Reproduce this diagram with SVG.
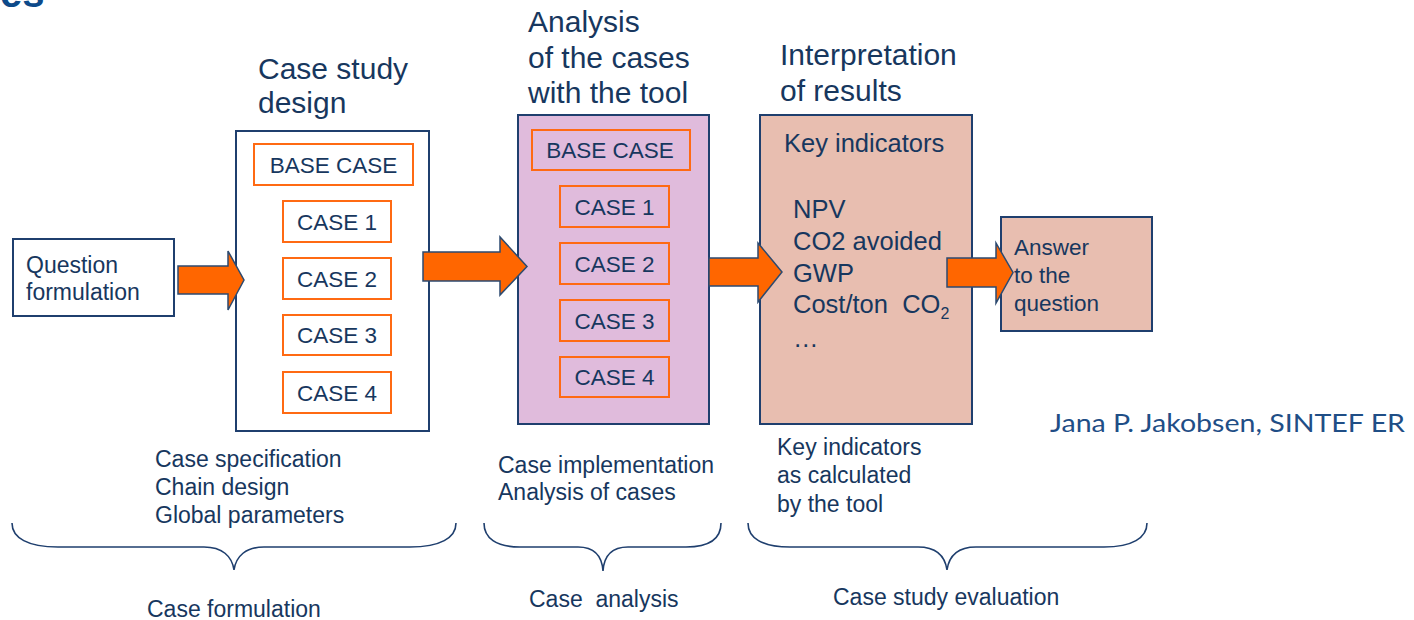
<svg xmlns="http://www.w3.org/2000/svg" width="1414" height="620" viewBox="0 0 1414 620" xml:space="preserve">
<style>
text{font-family:"Liberation Sans",Arial,sans-serif;fill:#17375e;white-space:pre}
.t{font-size:30px}
.b{font-size:23px}
.c{font-size:22.5px}
.k{font-size:25.5px}
.box{fill:#fff;stroke:#1f3f6e;stroke-width:2}
.ob{fill:none;stroke:#ff6a13;stroke-width:2}
.arr{fill:#ff6600;stroke:#2c4a70;stroke-width:1.5;stroke-linejoin:miter}
.brace{fill:none;stroke:#1f3f6e;stroke-width:1.6}
</style>
<text x="0" y="7" style="font-size:40px;font-weight:bold;fill:#0d4a8a">es</text>

<g id="question">
<rect class="box" x="13" y="239" width="161" height="77"/>
<text class="b" x="26" y="273">Question</text>
<text class="b" x="26" y="300">formulation</text>
</g>

<g id="case-study-design">
<text class="t" x="258" y="79">Case study</text>
<text class="t" x="258" y="113">design</text>
<rect class="box" x="236" y="131" width="193" height="300"/>
<rect class="ob" x="254" y="144" width="159" height="41"/>
<text class="c" x="333.5" y="173" text-anchor="middle">BASE CASE</text>
<rect class="ob" x="283" y="201" width="108" height="41"/>
<text class="c" x="337" y="230" text-anchor="middle">CASE 1</text>
<rect class="ob" x="283" y="258" width="108" height="41"/>
<text class="c" x="337" y="287" text-anchor="middle">CASE 2</text>
<rect class="ob" x="283" y="315" width="108" height="40"/>
<text class="c" x="337" y="343" text-anchor="middle">CASE 3</text>
<rect class="ob" x="283" y="372" width="108" height="41"/>
<text class="c" x="337" y="401" text-anchor="middle">CASE 4</text>
</g>

<g id="analysis">
<text class="t" x="528" y="32">Analysis</text>
<text class="t" x="528" y="68">of the cases</text>
<text class="t" x="528" y="103">with the tool</text>
<rect x="518" y="115" width="191" height="309" fill="#e0bbdc" stroke="#1f3f6e" stroke-width="2"/>
<rect class="ob" x="532" y="130" width="158" height="40"/>
<text class="c" x="610" y="158" text-anchor="middle">BASE CASE</text>
<rect class="ob" x="560" y="186" width="109" height="41"/>
<text class="c" x="614.5" y="215" text-anchor="middle">CASE 1</text>
<rect class="ob" x="560" y="243" width="109" height="41"/>
<text class="c" x="614.5" y="272" text-anchor="middle">CASE 2</text>
<rect class="ob" x="560" y="300" width="109" height="41"/>
<text class="c" x="614.5" y="329" text-anchor="middle">CASE 3</text>
<rect class="ob" x="560" y="357" width="109" height="40"/>
<text class="c" x="614.5" y="385" text-anchor="middle">CASE 4</text>
</g>

<g id="interpretation">
<text class="t" x="780" y="65">Interpretation</text>
<text class="t" x="780" y="101">of results</text>
<rect x="760" y="115" width="212" height="309" fill="#e8beb0" stroke="#1f3f6e" stroke-width="2"/>
<text class="k" x="784" y="152">Key indicators</text>
<text class="k" x="793" y="218">NPV</text>
<text class="k" x="793" y="250">CO2 avoided</text>
<text class="k" x="793" y="282">GWP</text>
<text class="k" x="793" y="313">Cost/ton  CO<tspan dy="6" style="font-size:16px">2</tspan></text>
<text class="k" x="793" y="347">…</text>
</g>

<g id="answer">
<rect x="1001" y="217" width="151" height="114" fill="#e8beb0" stroke="#1f3f6e" stroke-width="2"/>
<text class="c" x="1014" y="255">Answer</text>
<text class="c" x="1014" y="283">to the</text>
<text class="c" x="1014" y="311">question</text>
</g>

<g id="connectors">
<polygon class="arr" points="178,266 228,266 228,251 244,280 228,310 228,294 178,294"/>
<polygon class="arr" points="423,252 500,252 500,237 527,266.5 500,295 500,281 423,281"/>
<polygon class="arr" points="709,258 758,258 758,243 782,272 758,302 758,286 709,286"/>
<polygon class="arr" points="947,258 996,258 996,243 1013,272.5 996,303 996,287 947,287"/>
</g>

<g id="formulation-notes">
<text class="b" x="155" y="467">Case specification</text>
<text class="b" x="155" y="495">Chain design</text>
<text class="b" x="155" y="523">Global parameters</text>
<path class="brace" d="M12,523 C12,538 28,547 58,547 L204,547 C222,547 232,556 234,570 C236,556 246,547 264,547 L410,547 C440,547 456,538 456,523"/>
<text class="b" x="147" y="617">Case formulation</text>
</g>

<g id="analysis-notes">
<text class="b" x="498" y="473">Case implementation</text>
<text class="b" x="498" y="500">Analysis of cases</text>
<path class="brace" d="M484,523 C484,538 496,547 520,547 L578,547 C594,547 602,556 603,571 C604,556 612,547 628,547 L686,547 C710,547 721,538 721,523"/>
<text class="b" x="529" y="607">Case  analysis</text>
</g>

<g id="evaluation-notes">
<text class="b" x="777" y="455">Key indicators</text>
<text class="b" x="777" y="483">as calculated</text>
<text class="b" x="777" y="512">by the tool</text>
<path class="brace" d="M748,523 C748,538 762,547 790,547 L918,547 C936,547 945,556 947,570 C949,556 958,547 976,547 L1104,547 C1132,547 1147,538 1147,523"/>
<text class="b" x="833" y="605">Case study evaluation</text>
</g>

<text x="1050" y="432" style="font-family:Lato,'Open Sans',sans-serif;font-size:25px;fill:#1f4e86" textLength="355" lengthAdjust="spacingAndGlyphs">Jana P. Jakobsen, SINTEF ER</text>
</svg>
